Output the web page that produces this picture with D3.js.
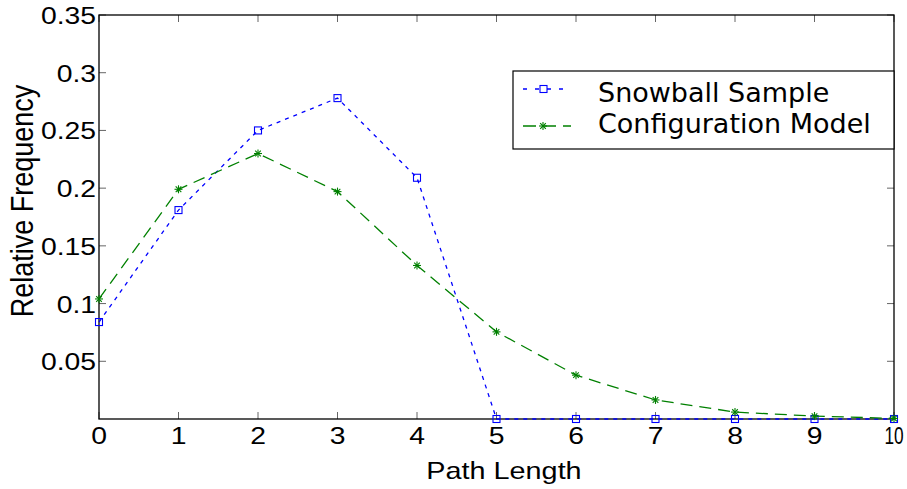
<!DOCTYPE html>
<html><head><meta charset="utf-8">
<script src="https://cdn.jsdelivr.net/npm/d3@7"></script>
<style>body{margin:0;background:#fff}</style>
</head><body>
<svg id="c" width="907" height="489"></svg>
<script>
const pathLength = [0,1,2,3,4,5,6,7,8,9,10];
const snowball = [0.084,0.181,0.250,0.278,0.209,0,0,0,0,0,0];
const configModel = [0.104,0.199,0.230,0.197,0.133,0.0755,0.038,0.0165,0.006,0.0025,0.0005];
const xTicks = [0,1,2,3,4,5,6,7,8,9,10];
const yTicks = [0.05,0.1,0.15,0.2,0.25,0.3,0.35];
const yTickLabels = ["0.05","0.1","0.15","0.2","0.25","0.3","0.35"];
const seriesNames = ["Snowball Sample","Configuration Model"];

const svg = d3.select("#c");
const L=99, R=894, T=15, B=419;
const x = d3.scaleLinear().domain([0,10]).range([L,R]);
const y = d3.scaleLinear().domain([0,0.35]).range([B,T]);
const tickFont = "'Liberation Sans', Arial, sans-serif";
const SX = 1.18;

// ticks inward on all four sides
const tk = 7;
const g = svg.append("g").attr("stroke","#666").attr("stroke-width",1);
xTicks.forEach(v=>{
  g.append("line").attr("x1",x(v)).attr("x2",x(v)).attr("y1",B).attr("y2",B-tk);
  g.append("line").attr("x1",x(v)).attr("x2",x(v)).attr("y1",T).attr("y2",T+tk);
});
yTicks.forEach(v=>{
  g.append("line").attr("x1",L).attr("x2",L+tk).attr("y1",y(v)).attr("y2",y(v));
  g.append("line").attr("x1",R).attr("x2",R-tk).attr("y1",y(v)).attr("y2",y(v));
});
// frame
svg.append("rect").attr("x",L).attr("y",T).attr("width",R-L).attr("height",B-T)
  .attr("fill","none").attr("stroke","#000").attr("stroke-width",1.3);

// tick labels
svg.append("g").selectAll("text").data(xTicks).join("text")
  .attr("transform",d=>`translate(${x(d)},444) scale(${d===10?0.72:SX},1)`).attr("text-anchor","middle")
  .attr("font-family",tickFont).attr("font-size",24).text(d=>d);
svg.append("g").selectAll("text").data(yTicks).join("text")
  .attr("transform",d=>`translate(96,${y(d)+9}) scale(${SX},1)`).attr("text-anchor","end")
  .attr("font-family",tickFont).attr("font-size",24).text((d,i)=>yTickLabels[i]);

// axis titles
svg.append("text").attr("transform",`translate(504,479) scale(1.2,1)`).attr("text-anchor","middle")
  .attr("font-family",tickFont).attr("font-size",24).text("Path Length");
svg.append("text").attr("transform","translate(33,201) rotate(-90) scale(1,1.15)").attr("text-anchor","middle")
  .attr("font-family",tickFont).attr("font-size",27).text("Relative Frequency");

const line = d3.line().x((d,i)=>x(pathLength[i])).y(d=>y(d));
// snowball
svg.append("path").attr("d",line(snowball)).attr("fill","none").attr("stroke","#0000ff")
  .attr("stroke-width",1.3).attr("stroke-dasharray","4,5");
svg.append("g").selectAll("rect").data(snowball).join("rect")
  .attr("x",(d,i)=>x(pathLength[i])-3.5).attr("y",d=>y(d)-3.5).attr("width",7).attr("height",7)
  .attr("fill","none").attr("stroke","#0000ff").attr("stroke-width",1.1);
// config
svg.append("path").attr("d",line(configModel)).attr("fill","none").attr("stroke","#008000")
  .attr("stroke-width",1.3).attr("stroke-dasharray","12,7");
function star(gr,cx,cy,r){
  for(let a=0;a<4;a++){
    const ang=a*Math.PI/4;
    gr.append("line").attr("x1",cx-r*Math.cos(ang)).attr("y1",cy-r*Math.sin(ang))
      .attr("x2",cx+r*Math.cos(ang)).attr("y2",cy+r*Math.sin(ang))
      .attr("stroke","#008000").attr("stroke-width",1.1);
  }
}
const sg = svg.append("g");
configModel.forEach((d,i)=>star(sg,x(pathLength[i]),y(d),4));

// legend
const lg = svg.append("g");
lg.append("rect").attr("x",513).attr("y",71).attr("width",R-513).attr("height",78)
  .attr("fill","#fff").attr("stroke","#000").attr("stroke-width",1.2);
lg.append("line").attr("x1",523).attr("x2",571).attr("y1",89).attr("y2",89)
  .attr("stroke","#0000ff").attr("stroke-width",1.3).attr("stroke-dasharray","4,8");
lg.append("rect").attr("x",540).attr("y",85.5).attr("width",7).attr("height",7)
  .attr("fill","#fff").attr("stroke","#0000ff").attr("stroke-width",1.1);
lg.append("line").attr("x1",523).attr("x2",571).attr("y1",126).attr("y2",126)
  .attr("stroke","#008000").attr("stroke-width",1.3).attr("stroke-dasharray","13,7");
star(lg,543,126,4);
lg.selectAll("text").data(seriesNames).join("text")
  .attr("x",598).attr("y",(d,i)=>[102,133][i])
  .attr("font-family","'DejaVu Sans', sans-serif").attr("font-size",27).text(d=>d);
</script>
</body></html>
